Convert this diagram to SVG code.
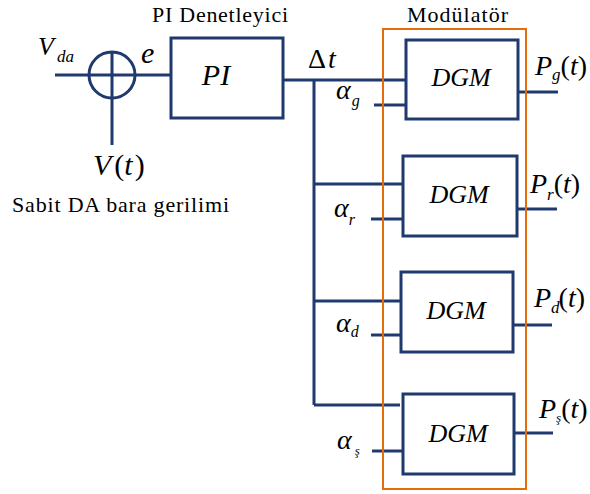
<svg xmlns="http://www.w3.org/2000/svg" width="590" height="494" viewBox="0 0 590 494">
<style>
.w{stroke:#1F3A6E;stroke-width:3;fill:none}
.b{stroke:#1F3A6E;stroke-width:3;fill:#fff}
.o{stroke:#E46C0A;stroke-width:2;fill:none}
.i{font-style:italic}
</style>
<rect width="590" height="494" fill="#fff"/>
<g id="connectors">
<path class="w" d="M55 75H89M112 98V145M135 75H171M283 80H406M314 80V405M314 184H403M314 301H401M314 405H400M374 105H406M371 219H403M371 335H401M372 451H403M518 92H558M517 209H557M513 325H552M514 433H553"/>
</g>
<g font-family="Liberation Serif, DejaVu Serif, serif" fill="#000">
<g id="modulator">
<rect class="o" x="383" y="29" width="143" height="460"/>
<text x="407" y="22" font-size="22" textLength="101">Modülatör</text>
</g>
<g id="sum">
<circle class="w" cx="112" cy="75" r="23"/>
<path class="w" d="M89 75H135M112 52V98"/>
</g>
<g id="pi">
<rect class="b" x="171" y="38" width="112" height="80"/>
<text class="i" x="216" y="85" font-size="30" text-anchor="middle">PI</text>
<text x="152" y="22" font-size="22" textLength="136">PI Denetleyici</text>
</g>
<g id="dgm1">
<rect class="b" x="406" y="40" width="112" height="79"/>
<text class="i" x="461" y="86" font-size="26" text-anchor="middle">DGM</text>
</g>
<g id="dgm2">
<rect class="b" x="403" y="156" width="114" height="80"/>
<text class="i" x="459" y="203" font-size="26" text-anchor="middle">DGM</text>
</g>
<g id="dgm3">
<rect class="b" x="401" y="272" width="112" height="80"/>
<text class="i" x="456" y="319" font-size="26" text-anchor="middle">DGM</text>
</g>
<g id="dgm4">
<rect class="b" x="403" y="394" width="111" height="80"/>
<text class="i" x="458" y="442" font-size="26" text-anchor="middle">DGM</text>
</g>
<g id="labels">
<text class="i" x="38" y="55" font-size="26">V<tspan font-size="17" dx="3" dy="7">da</tspan></text>
<text class="i" x="141" y="63" font-size="30">e</text>
<text x="93" y="175" font-size="30"><tspan class="i">V</tspan><tspan dx="3">(</tspan><tspan class="i">t</tspan><tspan dx="2">)</tspan></text>
<text x="12" y="211.5" font-size="22" textLength="217">Sabit DA bara gerilimi</text>
<text x="308" y="68" font-size="28">Δ<tspan class="i" dx="2">t</tspan></text>
<text class="i" x="336" y="99" font-size="28">α<tspan font-size="16" dx="1" dy="7">g</tspan></text>
<text class="i" x="334" y="217" font-size="28">α<tspan font-size="16" dx="0" dy="8">r</tspan></text>
<text class="i" x="336" y="332" font-size="28">α<tspan font-size="16" dx="0" dy="5">d</tspan></text>
<text class="i" x="337" y="449" font-size="28">α<tspan font-size="13" dx="3" dy="6">ş</tspan></text>
<text x="535" y="75" font-size="28"><tspan class="i">P</tspan><tspan class="i" font-size="17" dy="5">g</tspan><tspan dy="-5">(</tspan><tspan class="i">t</tspan>)</text>
<text x="530" y="193" font-size="28"><tspan class="i">P</tspan><tspan class="i" font-size="17" dy="7">r</tspan><tspan dy="-7">(</tspan><tspan class="i">t</tspan>)</text>
<text x="534" y="307" font-size="28"><tspan class="i">P</tspan><tspan class="i" font-size="17" dy="6">d</tspan><tspan dx="-1" dy="-6">(</tspan><tspan class="i">t</tspan>)</text>
<text x="539" y="418" font-size="28"><tspan class="i">P</tspan><tspan class="i" font-size="13" dy="4">ş</tspan><tspan dy="-4">(</tspan><tspan class="i">t</tspan>)</text>
</g>
</g>
</svg>
